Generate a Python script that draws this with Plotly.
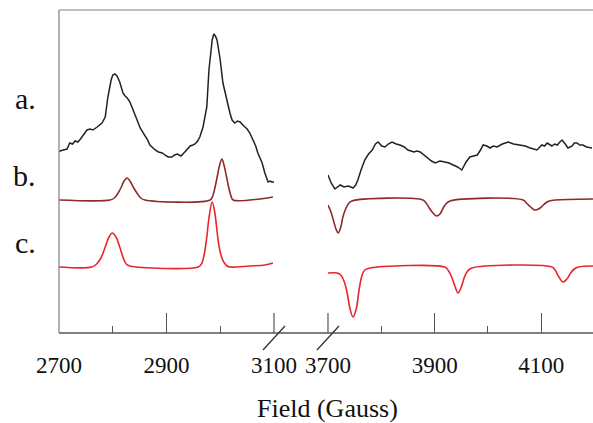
import plotly.graph_objects as go

# field values (Gauss) and relative heights
a_left_field = [2700, 2702, 2708, 2715, 2720, 2725, 2730, 2735, 2740, 2745, 2752, 2758, 2763, 2771, 2776, 2780,
                2786, 2791, 2797, 2800, 2804, 2808, 2813, 2819, 2823, 2827, 2832, 2836, 2841, 2846, 2851, 2856,
                2860, 2865, 2869, 2874, 2879, 2885, 2892, 2897, 2903, 2910, 2915, 2920, 2927, 2934, 2940, 2944,
                2949, 2953, 2958, 2962, 2968, 2972, 2975, 2979, 2982, 2985, 2988, 2991, 2994, 3000, 3005, 3009,
                3013, 3018, 3022, 3027, 3032, 3037, 3042, 3046, 3050, 3055, 3061, 3066, 3070, 3074, 3078, 3083,
                3089, 3093, 3096, 3100]
a_left_val = [181, 182, 183, 184, 190, 189, 192, 191, 194, 198, 203, 204, 203, 206, 208, 210,
              216, 236, 253, 258, 259, 257, 251, 240, 237, 235, 231, 226, 218, 212, 205, 201,
              198, 193, 188, 185, 183, 181, 180, 178, 176, 176, 178, 179, 177, 181, 184, 187,
              188, 189, 192, 196, 206, 216, 226, 263, 282, 293, 299, 297, 293, 273, 250, 240,
              230, 220, 213, 210, 212, 211, 208, 206, 204, 200, 193, 187, 180, 175, 170, 160,
              151, 152, 151, 151]

a_right_field = [3700, 3706, 3713, 3718, 3723, 3730, 3738, 3743, 3747, 3752, 3756, 3762, 3769, 3776, 3783, 3789,
                 3794, 3801, 3807, 3813, 3820, 3828, 3835, 3843, 3850, 3861, 3867, 3873, 3880, 3886, 3894, 3901,
                 3910, 3919, 3927, 3935, 3943, 3951, 3959, 3966, 3973, 3980, 3986, 3991, 3998, 4004, 4010, 4017,
                 4027, 4038, 4048, 4060, 4070, 4079, 4086, 4092, 4101, 4106, 4111, 4116, 4120, 4125, 4130, 4135,
                 4139, 4145, 4150, 4158, 4162, 4167, 4172, 4178, 4185, 4195]
a_right_val = [158, 150, 144, 146, 148, 146, 147, 146, 145, 148, 153, 163, 173, 179, 183, 189,
               191, 187, 186, 189, 191, 189, 188, 186, 183, 181, 182, 181, 178, 175, 172, 170,
               172, 171, 170, 168, 166, 163, 171, 176, 177, 178, 183, 188, 187, 185, 187, 186,
               189, 191, 189, 188, 187, 185, 184, 183, 188, 187, 190, 188, 187, 189, 188, 191,
               193, 189, 185, 187, 190, 190, 188, 188, 186, 185]

b_left_field = [2700, 2795, 2803, 2810, 2816, 2821, 2827, 2832, 2838, 2845, 2852, 2860, 2981, 2986, 2990, 2995,
                2998, 3003, 3007, 3011, 3016, 3020, 3024, 3074, 3098]
b_left_val = [133, 133, 135, 140, 146, 152, 155, 152, 146, 140, 135, 133, 133, 137, 145, 158,
              166, 174, 168, 158, 145, 137, 133, 134, 136]

b_right_field = [3700, 3705, 3710, 3715, 3719, 3724, 3728, 3733, 3738, 3745, 3878, 3884, 3890, 3897, 3904, 3910,
                 3915, 3921, 3929, 4066, 4072, 4080, 4088, 4095, 4102, 4108, 4115, 4126, 4197]
b_right_val = [128, 122, 113, 104, 100, 106, 116, 124, 129, 132, 133, 130, 125, 120, 117, 119,
               124, 129, 132, 133, 130, 126, 123, 124, 127, 130, 132, 133, 134]

c_left_field = [2700, 2761, 2770, 2778, 2786, 2793, 2799, 2806, 2813, 2819, 2825, 2832, 2959, 2965, 2970, 2975,
                2979, 2985, 2990, 2994, 2998, 3003, 3009, 3013, 3018, 3055, 3083, 3098]
c_left_val = [66, 66, 69, 75, 86, 96, 100, 96, 86, 76, 69, 67, 66, 69, 78, 96,
              115, 131, 120, 102, 86, 75, 69, 67, 66, 67, 68, 70]

c_right_field = [3700, 3717, 3724, 3730, 3736, 3741, 3747, 3753, 3758, 3764, 3769, 3779, 3919, 3925, 3932, 3938,
                 3944, 3950, 3956, 3962, 3970, 4120, 4126, 4132, 4141, 4148, 4155, 4162, 4170, 4197]
c_right_val = [60, 60, 58, 52, 40, 25, 16, 24, 42, 58, 63, 65, 66, 63, 56, 47,
               40, 46, 56, 62, 65, 66, 63, 57, 51, 54, 60, 64, 66, 67]

labels = ["a.", "b.", "c."]
label_pos = [235, 158, 91]

serif = "Liberation Serif"
black = "#222222"
maroon = "#8e2a2a"
red = "#e8242c"
tick_col = '#555555'

left_dom = [0, 0.4026]
right_dom = [0.5037, 1]

fig = go.Figure()

# left part of the broken axis
fig.add_trace(go.Scatter(x=a_left_field, y=a_left_val, mode='lines', line=dict(color=black, width=1.5)))
fig.add_trace(go.Scatter(x=b_left_field, y=b_left_val, mode='lines', line_shape='spline',
                         line=dict(color=maroon, width=1.6)))
fig.add_trace(go.Scatter(x=c_left_field, y=c_left_val, mode='lines', line_shape='spline',
                         line=dict(color=red, width=1.6)))

# right part
fig.add_trace(go.Scatter(x=a_right_field, y=a_right_val, mode='lines', xaxis='x2', yaxis='y',
                         line=dict(color=black, width=1.5)))
fig.add_trace(go.Scatter(x=b_right_field, y=b_right_val, mode='lines', line_shape='spline', xaxis='x2', yaxis='y',
                         line=dict(color=maroon, width=1.6)))
fig.add_trace(go.Scatter(x=c_right_field, y=c_right_val, mode='lines', line_shape='spline', xaxis='x2', yaxis='y',
                         line=dict(color=red, width=1.6)))

tick_style = dict(ticks='inside', ticklen=20, tickwidth=1.2, tickcolor=tick_col, showgrid=False, zeroline=False,
                  showline=False, automargin=False,
                  tickfont=dict(family=serif, size=23, color='#111111'), ticklabelstandoff=16)

fig.update_layout(
    template='none',
    width=593, height=423,
    margin=dict(l=59, r=0, t=10, b=90, pad=0),
    paper_bgcolor='white', plot_bgcolor='white',
    showlegend=False,
    xaxis=dict(domain=left_dom, range=[2700, 3100], tickvals=[2700, 2900, 3100],
               minor=dict(tickvals=[2800, 3000], ticks='inside', ticklen=7, tickwidth=1.2, tickcolor=tick_col),
               **tick_style),
    xaxis2=dict(domain=right_dom, range=[3700, 4197], anchor='y', tickvals=[3700, 3900, 4100],
                minor=dict(tickvals=[3800, 4000], ticks='inside', ticklen=7, tickwidth=1.2, tickcolor=tick_col),
                **tick_style),
    yaxis=dict(range=[0, 323], visible=False, fixedrange=True, automargin=False),
)

# frame lines drawn by hand so the bottom axis runs across the break
fig.add_shape(type='line', xref='paper', yref='paper', x0=0, x1=1, y0=0, y1=0, line=dict(color=tick_col, width=1.3))
fig.add_shape(type='line', xref='paper', yref='paper', x0=0, x1=1, y0=1, y1=1, line=dict(color='#aaaaaa', width=1.5))
fig.add_shape(type='line', xref='paper', yref='paper', x0=0, x1=0, y0=0, y1=1, line=dict(color='#888888', width=1.3))

# tall ticks on both sides of the break plus the break marks (paper refs so nothing gets clipped)
for xp in [left_dom[1], right_dom[0]]:
    fig.add_shape(type='line', xref='paper', yref='paper', ysizemode='pixel', yanchor=0, x0=xp, x1=xp, y0=0, y1=20,
                  line=dict(color=tick_col, width=1.2))
    fig.add_shape(type='line', xref='paper', yref='paper', xsizemode='pixel', ysizemode='pixel',
                  xanchor=xp, yanchor=0, x0=-11, x1=11, y0=-17, y1=7,
                  line=dict(color='#333333', width=1.3))

for lab, pos in zip(labels, label_pos):
    fig.add_annotation(text=lab, xref='paper', x=0, xanchor='right', xshift=-21, yref='y', y=pos,
                       yanchor='middle', showarrow=False, font=dict(family=serif, size=30, color='#111111'))

fig.add_annotation(text="Field (Gauss)", xref='paper', x=0.502, yref='paper', y=0, yanchor='middle', yshift=-75,
                   showarrow=False, font=dict(family=serif, size=26, color='#111111'))

# drop the page margin so the 593x423 figure fills the window exactly
fig.write_html("out.html", config={'displayModeBar': False, 'responsive': False},
               post_script="document.body.style.margin='0';document.body.style.overflow='hidden';")
